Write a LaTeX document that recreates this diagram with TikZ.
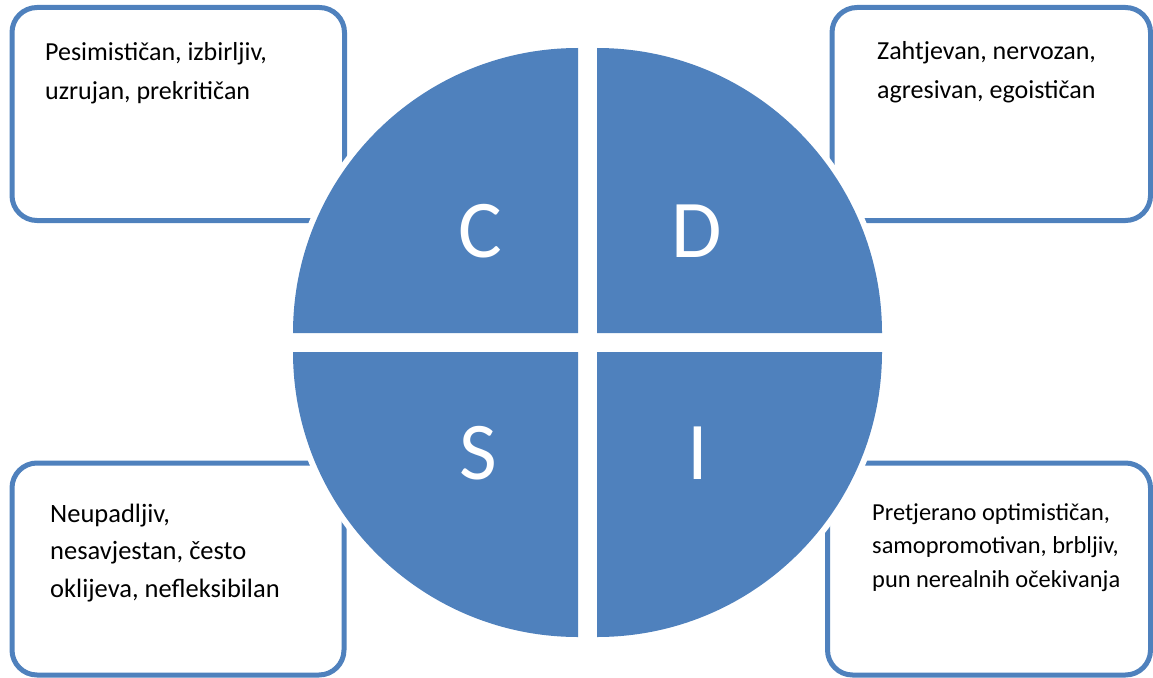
\documentclass[tikz,border=0pt]{standalone}
\usepackage{fontspec}
\setmainfont{Carlito}
\usetikzlibrary{positioning}
\definecolor{discblue}{RGB}{79,129,189}
\tikzset{
  card/.style={draw=discblue,line width=5pt,rounded corners=25pt,fill=white},
  quad/.style={fill=discblue,preaction={draw=white,line width=12pt,line join=round}},
  letter/.style={text=white,font=\fontsize{82}{82}\selectfont,inner sep=0pt},
  desc/.style={align=left,anchor=base west,inner sep=0pt,font=\fontsize{26}{38.5}\selectfont},
  desclow/.style={desc,font=\fontsize{26.5}{37.5}\selectfont},
  descsm/.style={desc,font=\fontsize{24.4}{33.3}\selectfont},
}
\begin{document}
\begin{tikzpicture}[x=1pt,y=-1pt]
    \useasboundingbox (0,0) rectangle (1153,677);
    % ---- the four cards behind the disc ----
    \draw[card] (12,7.5) rectangle (344.5,220.5);
    \draw[card] (832,7.5) rectangle (1150.5,220.5);
    \draw[card] (12,463) rectangle (344,675);
    \draw[card] (827.5,463) rectangle (1150.5,675);
    % (base anchor sits on the last line)
    \node[desc] (txtC) at (45,99) {Pesimističan, izbirljiv,\\uzrujan, prekritičan};
    \node[desc] (txtD) at (877,98) {Zahtjevan, nervozan,\\agresivan, egoističan};
    \node[desclow] (txtS) at (50,597) {Neupadljiv,\\nesavjestan, često\\oklijeva, nefleksibilan};
    \node[descsm] (txtI) at (872,587) {Pretjerano optimističan,\\samopromotivan, brbljiv,\\pun nerealnih očekivanja};
    % ---- the disc: four quarters, each with its own corner ----
    \foreach \cx/\cy/\a/\l/\lx/\ly in {578/333/180/C/480/231, 597/333/270/D/697/231,
                                       597/352/0/I/698/453, 578/352/90/S/478/453} {
      \fill[quad] (\cx,\cy) -- ++(\a:285) arc (\a:\a+90:285) -- cycle;
      \node[letter] (q\l) at (\lx,\ly) {\l};
    }
\end{tikzpicture}
\end{document}
